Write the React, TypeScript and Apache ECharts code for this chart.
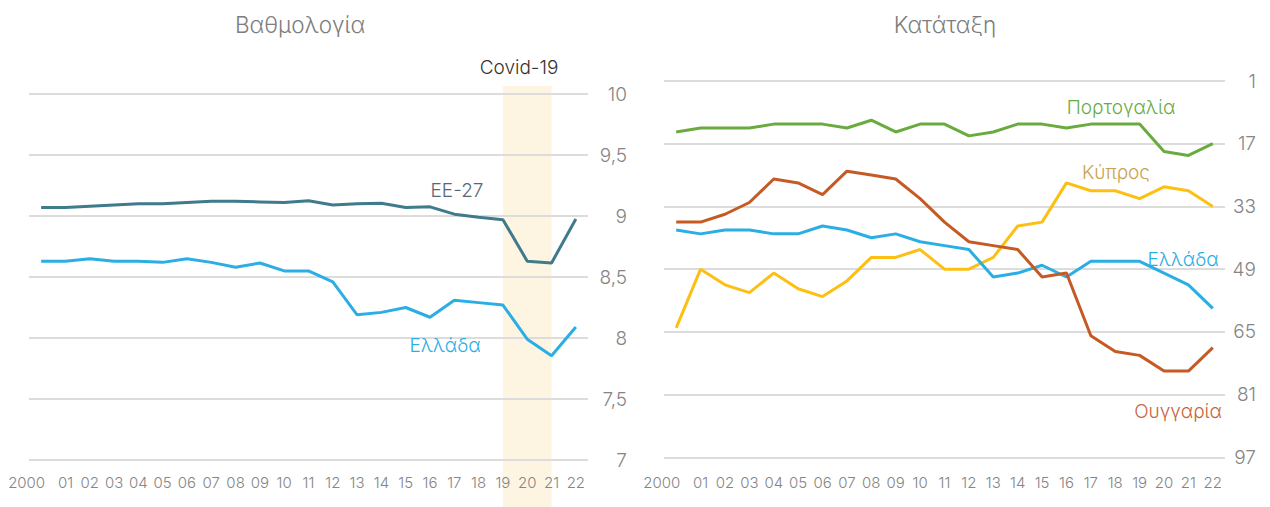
import React, { useEffect, useRef } from "react";
import * as echarts from "echarts";

const years = ["2000", "01", "02", "03", "04", "05", "06", "07", "08", "09", "10", "11", "12", "13", "14", "15", "16", "17", "18", "19", "20", "21", "22"];

const eu27Score = [9.07, 9.07, 9.08, 9.09, 9.1, 9.1, 9.11, 9.12, 9.12, 9.115, 9.11, 9.125, 9.09, 9.1, 9.105, 9.07, 9.075, 9.015, 8.99, 8.97, 8.63, 8.615, 8.975];
const greeceScore = [8.63, 8.63, 8.65, 8.63, 8.63, 8.62, 8.65, 8.62, 8.58, 8.615, 8.55, 8.55, 8.46, 8.19, 8.21, 8.25, 8.17, 8.31, 8.29, 8.27, 7.99, 7.855, 8.09];

const portugalRank = [14, 13, 13, 13, 12, 12, 12, 13, 11, 14, 12, 12, 15, 14, 12, 12, 13, 12, 12, 12, 19, 20, 17];
const cyprusRank = [64, 49, 53, 55, 50, 54, 56, 52, 46, 46, 44, 49, 49, 46, 38, 37, 27, 29, 29, 31, 28, 29, 33];
const greeceRank = [39, 40, 39, 39, 40, 40, 38, 39, 41, 40, 42, 43, 44, 51, 50, 48, 51, 47, 47, 47, 50, 53, 59];
const hungaryRank = [37, 37, 35, 32, 26, 27, 30, 24, 25, 26, 31, 37, 42, 43, 44, 51, 50, 66, 70, 71, 75, 75, 69];

const covidStart = "19";
const covidEnd = "21";

const FONT = "Inter, Lato, 'Noto Sans', sans-serif";
const FW = 300;
const GRID_COLOR = "#dcdcdc";
const LABEL_COLOR = "#858585";

const C_EU = "#3f7a8d";
const C_GR = "#2aaee4";
const C_PT = "#6aab3f";
const C_CY = "#fdc012";
const C_HU = "#c55a25";

const RANK_OFFSET = 1;

export default function App() {
  const ref = useRef<HTMLDivElement>(null);

  useEffect(() => {
    if (!ref.current) return;
    const chart = echarts.init(ref.current, undefined, { renderer: "svg" });

    const catData = years.map((y, i) =>
      i === 0 ? { value: y, textStyle: { align: "right", padding: [0, -4, 0, 0] } } : y
    );

    const xAxisCommon = {
      type: "category" as const,
      data: catData,
      boundaryGap: true,
      axisLine: { show: false },
      axisTick: { show: false },
      axisLabel: { interval: 0, color: LABEL_COLOR, fontSize: 15, fontFamily: FONT, fontWeight: FW },
    };

    const lineCommon = {
      type: "line" as const,
      symbol: "none",
      z: 5,
    };

    const yLabel = {
      color: LABEL_COLOR,
      fontSize: 19,
      fontFamily: FONT,
      fontWeight: FW,
      align: "right",
    };

    chart.setOption({
      animation: false,
      grid: [
        { left: 29, top: 94, width: 559, height: 366 },
        { left: 664, top: 81, width: 561, height: 376.3 },
      ],
      xAxis: [
        { ...xAxisCommon, gridIndex: 0, axisLabel: { ...xAxisCommon.axisLabel, margin: 15 } },
        { ...xAxisCommon, gridIndex: 1, axisLabel: { ...xAxisCommon.axisLabel, margin: 18 } },
      ],
      yAxis: [
        {
          type: "value",
          gridIndex: 0,
          position: "right",
          min: 7,
          max: 10,
          interval: 0.5,
          axisLine: { show: false },
          axisTick: { show: false },
          splitLine: { lineStyle: { color: GRID_COLOR, width: 2 } },
          axisLabel: { ...yLabel, margin: 39, formatter: (v: number) => String(v).replace(".", ",") },
        },
        {
          type: "value",
          gridIndex: 1,
          position: "right",
          inverse: true,
          min: 0,
          max: 96,
          interval: 16,
          axisLine: { show: false },
          axisTick: { show: false },
          splitLine: { lineStyle: { color: GRID_COLOR, width: 2 } },
          axisLabel: { ...yLabel, margin: 31, formatter: (v: number) => String(v + RANK_OFFSET) },
        },
      ],
      series: [
        { ...lineCommon, name: "ΕΕ-27", xAxisIndex: 0, yAxisIndex: 0, data: eu27Score, lineStyle: { width: 3, color: C_EU }, itemStyle: { color: C_EU } },
        { ...lineCommon, name: "Ελλάδα", xAxisIndex: 0, yAxisIndex: 0, data: greeceScore, lineStyle: { width: 3, color: C_GR }, itemStyle: { color: C_GR } },
        { ...lineCommon, name: "Πορτογαλία", xAxisIndex: 1, yAxisIndex: 1, data: portugalRank.map((r) => r - RANK_OFFSET), lineStyle: { width: 3, color: C_PT }, itemStyle: { color: C_PT } },
        { ...lineCommon, name: "Κύπρος", xAxisIndex: 1, yAxisIndex: 1, data: cyprusRank.map((r) => r - RANK_OFFSET), lineStyle: { width: 3, color: C_CY }, itemStyle: { color: C_CY } },
        { ...lineCommon, name: "Ελλάδα (κατάταξη)", xAxisIndex: 1, yAxisIndex: 1, data: greeceRank.map((r) => r - RANK_OFFSET), lineStyle: { width: 3, color: C_GR }, itemStyle: { color: C_GR } },
        { ...lineCommon, name: "Ουγγαρία", xAxisIndex: 1, yAxisIndex: 1, data: hungaryRank.map((r) => r - RANK_OFFSET), lineStyle: { width: 3, color: C_HU }, itemStyle: { color: C_HU } },
      ],
    });

    const bx1 = chart.convertToPixel({ xAxisIndex: 0 }, covidStart) as number;
    const bx2 = chart.convertToPixel({ xAxisIndex: 0 }, covidEnd) as number;

    const txt = (text: string, x: number, y: number, color: string, size: number) => ({
      type: "text",
      x,
      y,
      z: 10,
      style: { text, fill: color, fontSize: size, fontFamily: FONT, fontWeight: FW, align: "center", verticalAlign: "middle" },
    });

    chart.setOption({
      graphic: [
        {
          type: "rect",
          z: -10,
          shape: { x: bx1, y: 86, width: bx2 - bx1, height: 421 },
          style: { fill: "#fdf5e2" },
        },
        txt("Βαθμολογία", 300, 24, "#7d7d7d", 22.5),
        txt("Κατάταξη", 945, 24, "#7d7d7d", 22.5),
        txt("Covid-19", 519, 67, "#333333", 19),
        txt("ΕΕ-27", 457, 190, "#566878", 19),
        txt("Ελλάδα", 445, 345, C_GR, 19),
        txt("Πορτογαλία", 1121, 107, C_PT, 19),
        txt("Κύπρος", 1116, 172, "#c9a24e", 19),
        txt("Ελλάδα", 1183, 259, C_GR, 19),
        txt("Ουγγαρία", 1178, 411, "#c8633a", 19),
      ],
    });

    return () => chart.dispose();
  }, []);

  return (
    <div
      ref={ref}
      style={{ position: "fixed", left: 0, top: 0, width: 1270, height: 507, background: "#ffffff" }}
    />
  );
}
